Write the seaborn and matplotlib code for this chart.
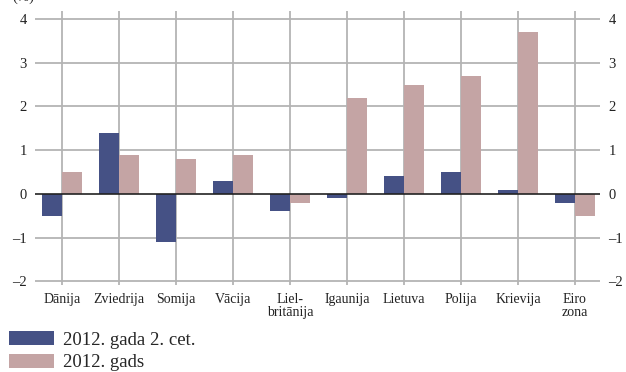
import numpy as np
import pandas as pd
import matplotlib
matplotlib.use("Agg")
import matplotlib.pyplot as plt
import seaborn as sns

categories = ["Dānija", "Zviedrija", "Somija", "Vācija", "Liel-\nbritānija",
              "Igaunija", "Lietuva", "Polija", "Krievija", "Eiro\nzona"]
series_names = ["2012. gada 2. cet.", "2012. gads"]
q2_values = [-0.5, 1.4, -1.1, 0.3, -0.4, -0.1, 0.4, 0.5, 0.1, -0.2]
year_values = [0.5, 0.9, 0.8, 0.9, -0.2, 2.2, 2.5, 2.7, 3.7, -0.5]
y_ticks = [-2, -1, 0, 1, 2, 3, 4]
y_tick_labels = ["–2", "–1", "0", "1", "2", "3", "4"]
unit_label = "(%)"

colors = ["#455185", "#c4a4a4"]

sns.set_theme(style="white")
plt.rcParams["font.family"] = ["Liberation Serif", "DejaVu Serif"]

df = pd.DataFrame({
    "country": categories * 2,
    "series": [series_names[0]] * len(categories) + [series_names[1]] * len(categories),
    "value": q2_values + year_values,
})

W, H = 626, 372
fig = plt.figure(figsize=(W / 100, H / 100), dpi=100)
ax = fig.add_axes([35 / W, 1 - 285 / H, (600 - 35) / W, (285 - 11) / H])

sns.barplot(data=df, x="country", y="value", hue="series", order=categories,
            hue_order=series_names, palette=colors, width=0.7, gap=0,
            saturation=1, linewidth=0, ax=ax, zorder=3)

ax.set_xlim(-0.47, 9.44)
ax.set_ylim(-2.08, 4.18)

for s in ax.spines.values():
    s.set_visible(False)

grid_c = "#b4b4b4"
for t in y_ticks:
    if t == 0:
        ax.axhline(0, color="#222222", lw=1.2, zorder=4)
    else:
        ax.axhline(t, color=grid_c, lw=1.3, zorder=1)
for i in range(len(categories)):
    ax.axvline(i, color=grid_c, lw=1.3, zorder=1)

ax.set_yticks(y_ticks)
ax.set_yticklabels(y_tick_labels, fontsize=10.5, color="#222222")
ax.tick_params(axis="y", which="both", left=False, right=False, length=0,
               labelleft=True, labelright=True, pad=6)
ax.set_xticks(range(len(categories)))
ax.set_xticklabels(categories, fontsize=10, color="#222222", linespacing=0.95)
ax.tick_params(axis="x", bottom=False, length=0, pad=6)
ax.set_xlabel("")
ax.set_ylabel("")

handles, labels = ax.get_legend_handles_labels()
ax.get_legend().remove()
fig.legend(handles, labels, loc="lower left", bbox_to_anchor=(6 / W, -2 / H),
           frameon=False, fontsize=13.5, handlelength=2.4, handleheight=0.75,
           handletextpad=0.5, labelspacing=0.28, borderaxespad=0.0,
           borderpad=0.15)

fig.text(12 / W, 1 - 4 / H, unit_label, fontsize=10.5, va="bottom", ha="left",
         color="#222222")

fig.savefig("out.png", dpi=100)
